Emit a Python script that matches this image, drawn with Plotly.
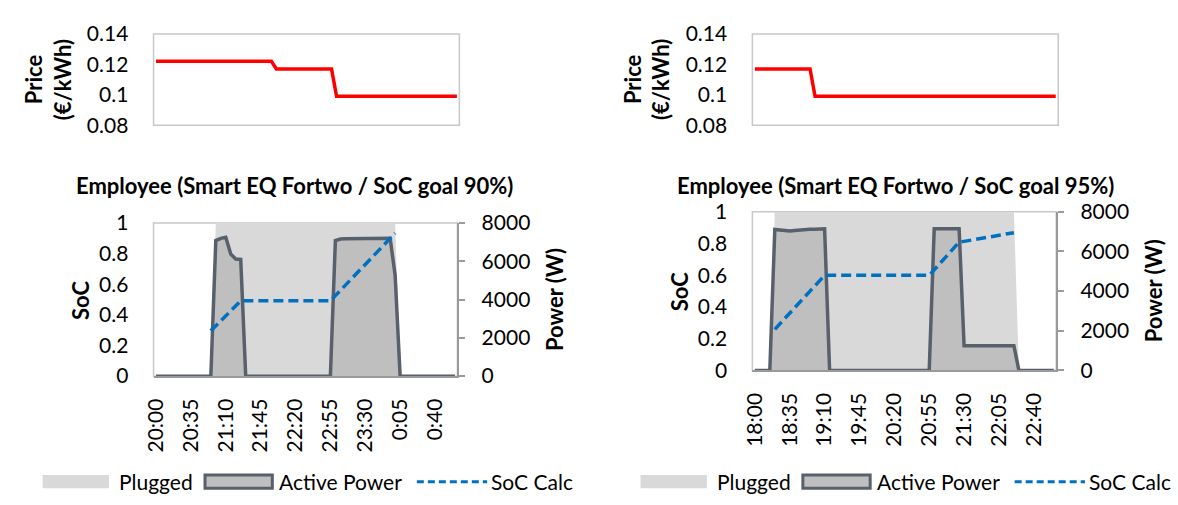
import plotly.graph_objects as go

# ---------------------------------------------------------------- data
def five_min_labels(start_hour, count):
    out = []
    for k in range(count):
        total = start_hour * 60 + 5 * k
        out.append("%d:%02d" % ((total // 60) % 24, total % 60))
    return out

TIMES_A = five_min_labels(20, 61)   # 20:00 .. 1:00
TIMES_B = five_min_labels(18, 61)   # 18:00 .. 23:00

TICKS_A = ["20:00", "20:35", "21:10", "21:45", "22:20", "22:55", "23:30", "0:05", "0:40"]
TICKS_B = ["18:00", "18:35", "19:10", "19:45", "20:20", "20:55", "21:30", "22:05", "22:40"]

PRICE_A = [
    0.122, 0.122, 0.122, 0.122, 0.122, 0.122, 0.122, 0.122, 0.122, 0.122,
    0.122, 0.122, 0.122, 0.122, 0.122, 0.122, 0.122, 0.122, 0.122, 0.122,
    0.122, 0.122, 0.122, 0.122, 0.117, 0.117, 0.117, 0.117, 0.117, 0.117,
    0.117, 0.117, 0.117, 0.117, 0.117, 0.117, 0.099, 0.099, 0.099, 0.099,
    0.099, 0.099, 0.099, 0.099, 0.099, 0.099, 0.099, 0.099, 0.099, 0.099,
    0.099, 0.099, 0.099, 0.099, 0.099, 0.099, 0.099, 0.099, 0.099, 0.099,
    0.099,
]
PRICE_B = [
    0.117, 0.117, 0.117, 0.117, 0.117, 0.117, 0.117, 0.117, 0.117, 0.117,
    0.117, 0.117, 0.099, 0.099, 0.099, 0.099, 0.099, 0.099, 0.099, 0.099,
    0.099, 0.099, 0.099, 0.099, 0.099, 0.099, 0.099, 0.099, 0.099, 0.099,
    0.099, 0.099, 0.099, 0.099, 0.099, 0.099, 0.099, 0.099, 0.099, 0.099,
    0.099, 0.099, 0.099, 0.099, 0.099, 0.099, 0.099, 0.099, 0.099, 0.099,
    0.099, 0.099, 0.099, 0.099, 0.099, 0.099, 0.099, 0.099, 0.099, 0.099,
    0.099,
]

PLUGGED_A = [
    0, 0, 0, 0, 0, 0, 0, 0, 0, 0,
    0, 0, 1, 1, 1, 1, 1, 1, 1, 1,
    1, 1, 1, 1, 1, 1, 1, 1, 1, 1,
    1, 1, 1, 1, 1, 1, 1, 1, 1, 1,
    1, 1, 1, 1, 1, 1, 1, 1, 1, 0,
    0, 0, 0, 0, 0, 0, 0, 0, 0, 0,
    0,
]
POWER_A = [
    0, 0, 0, 0, 0, 0, 0, 0, 0, 0,
    0, 0, 7090, 7200, 7255, 6380, 6120, 6100, 0, 0,
    0, 0, 0, 0, 0, 0, 0, 0, 0, 0,
    0, 0, 0, 0, 0, 0, 7090, 7170, 7180, 7180,
    7185, 7185, 7190, 7190, 7195, 7195, 7200, 7205, 5270, 0,
    0, 0, 0, 0, 0, 0, 0, 0, 0, 0,
    0,
]
SOC_A = [
    None, None, None, None, None, None, None, None, None, None,
    None, 0.296, 0.329, 0.362, 0.394, 0.427, 0.460, 0.492, 0.492, 0.492,
    0.492, 0.492, 0.492, 0.492, 0.492, 0.492, 0.492, 0.492, 0.492, 0.492,
    0.492, 0.492, 0.492, 0.492, 0.492, 0.492, 0.526, 0.560, 0.594, 0.628,
    0.662, 0.696, 0.730, 0.764, 0.798, 0.832, 0.866, 0.900, 0.934, None,
    None, None, None, None, None, None, None, None, None, None,
    None,
]

PLUGGED_B = [
    0, 0, 0, 0, 1, 1, 1, 1, 1, 1,
    1, 1, 1, 1, 1, 1, 1, 1, 1, 1,
    1, 1, 1, 1, 1, 1, 1, 1, 1, 1,
    1, 1, 1, 1, 1, 1, 1, 1, 1, 1,
    1, 1, 1, 1, 1, 1, 1, 1, 1, 1,
    1, 1, 1, 0, 0, 0, 0, 0, 0, 0,
    0,
]
POWER_B = [
    0, 0, 0, 0, 7105, 7070, 7040, 7025, 7050, 7080,
    7100, 7110, 7120, 7130, 7140, 0, 0, 0, 0, 0,
    0, 0, 0, 0, 0, 0, 0, 0, 0, 0,
    0, 0, 0, 0, 0, 0, 7138, 7140, 7140, 7140,
    7140, 7140, 1245, 1245, 1245, 1245, 1245, 1245, 1245, 1245,
    1245, 1245, 1245, 0, 0, 0, 0, 0, 0, 0,
    0,
]
SOC_B = [
    None, None, None, None, 0.259, 0.293, 0.327, 0.361, 0.395, 0.429,
    0.463, 0.497, 0.531, 0.565, 0.599, 0.599, 0.599, 0.599, 0.599, 0.599,
    0.599, 0.599, 0.599, 0.599, 0.599, 0.599, 0.599, 0.599, 0.599, 0.599,
    0.599, 0.599, 0.599, 0.599, 0.599, 0.599, 0.634, 0.669, 0.704, 0.738,
    0.773, 0.808, 0.813, 0.819, 0.824, 0.830, 0.835, 0.841, 0.846, 0.852,
    0.857, 0.863, 0.868, None, None, None, None, None, None, None,
    None,
]

TITLE_A = "Employee (Smart EQ Fortwo / SoC goal 90%)"
TITLE_B = "Employee (Smart EQ Fortwo / SoC goal 95%)"

# ---------------------------------------------------------------- style
W, H = 1178, 505
FONT = "Lato"
INK = "#000000"
PLUG_FILL = "#D9D9D9"
POWER_FILL = "#BFBFBF"
POWER_LINE = "#58606C"
SOC_BLUE = "#0070C0"
PRICE_RED = "#FF0000"
BORDER = "#C8C8C8"
AXIS_GRAY = "#9A9A9A"
TICK_SIZE = 21
LEGEND_SIZE = 21


def px_x(v):
    return v / W


def px_y(v):
    return 1 - v / H


fig = go.Figure()
layout = dict(
    width=W, height=H,
    margin=dict(l=0, r=0, t=0, b=0),
    paper_bgcolor="white", plot_bgcolor="white",
    font=dict(family=FONT, size=TICK_SIZE, color=INK),
    showlegend=False,
)
shapes, annotations = [], []

panels = [
    dict(times=TIMES_A, ticks=TICKS_A, price=PRICE_A, plugged=PLUGGED_A,
         power=POWER_A, soc=SOC_A, title=TITLE_A,
         price_px=(143, 452, 21, 117), main_px=(143, 450, 220, 381),
         ax=dict(px="x1", py="y1", mx="x3", my="y3", pw="y4", so="y5"),
         label_x=36, soc_label_x=69, power_label_x=548, title_x=285, title_y=180,
         legend_x=31),
    dict(times=TIMES_B, ticks=TICKS_B, price=PRICE_B, plugged=PLUGGED_B,
         power=POWER_B, soc=SOC_B, title=TITLE_B,
         price_px=(748, 1057, 21, 117), main_px=(748, 1055, 208, 375),
         ax=dict(px="x2", py="y2", mx="x4", my="y6", pw="y7", so="y8"),
         label_x=641, soc_label_x=674, power_label_x=1153, title_x=893, title_y=180,
         legend_x=635),
]


def axis_key(name):
    letter, num = name[0], name[1:]
    return ("xaxis" if letter == "x" else "yaxis") + ("" if num == "1" else num)


def ref(name):
    return name[0] + ("" if name[1:] == "1" else name[1:])


for p in panels:
    a = p["ax"]
    n = len(p["times"])
    xr = [-0.5, n - 0.5]

    # ---- price panel
    x0, x1, y0, y1 = p["price_px"]
    layout[axis_key(a["px"])] = dict(
        domain=[px_x(x0), px_x(x1)], anchor=ref(a["py"]), type="category",
        range=xr, showticklabels=False, ticks="", showgrid=False, zeroline=False,
    )
    layout[axis_key(a["py"])] = dict(
        domain=[px_y(y1), px_y(y0)], anchor=ref(a["px"]), range=[0.08, 0.14],
        dtick=0.02, tick0=0.08, showgrid=False, zeroline=False,
        ticks="outside", ticklen=20, tickcolor="rgba(0,0,0,0)",
    )
    fig.add_trace(go.Scatter(
        x=p["times"], y=p["price"], mode="lines",
        line=dict(color=PRICE_RED, width=3.5),
        xaxis=ref(a["px"]), yaxis=ref(a["py"]), name="Price",
    ))
    shapes.append(dict(type="rect", xref=ref(a["px"]) + " domain", yref=ref(a["py"]) + " domain",
                       x0=0, x1=1, y0=0, y1=1, line=dict(color=BORDER, width=1.5), layer="below"))
    annotations.append(dict(
        x=px_x(p["label_x"]), y=px_y((y0 + y1) / 2), xref="paper", yref="paper",
        text="<b>Price<br>(€/kWh)</b>", textangle=-90, showarrow=False,
        font=dict(size=22), xanchor="center", yanchor="middle",
    ))

    # ---- SoC / power panel
    x0, x1, y0, y1 = p["main_px"]
    dom_y = [px_y(y1), px_y(y0)]
    layout[axis_key(a["mx"])] = dict(
        domain=[px_x(x0), px_x(x1)], anchor=ref(a["my"]), type="category",
        range=xr, tickmode="array", tickvals=p["ticks"], ticktext=p["ticks"],
        tickangle=-90, ticks="outside", ticklen=12, tickcolor="rgba(0,0,0,0)",
        showline=True, linecolor=AXIS_GRAY, linewidth=2,
        showgrid=False, zeroline=False,
    )
    layout[axis_key(a["my"])] = dict(
        domain=dom_y, anchor=ref(a["mx"]), range=[0, 1], dtick=0.2,
        showgrid=False, zeroline=False,
        ticks="outside", ticklen=20, tickcolor="rgba(0,0,0,0)",
    )
    layout[axis_key(a["pw"])] = dict(
        overlaying=ref(a["my"]), anchor=ref(a["mx"]), side="right",
        range=[0, 8000], dtick=2000, tickformat="d",
        showgrid=False, zeroline=False,
        showline=True, linecolor=AXIS_GRAY, linewidth=2,
        ticks="outside", ticklen=6, tickwidth=2, tickcolor=AXIS_GRAY,
        ticklabelstandoff=12,
    )
    layout[axis_key(a["so"])] = dict(
        overlaying=ref(a["my"]), anchor=ref(a["mx"]), range=[0, 1],
        visible=False, showgrid=False, zeroline=False,
    )
    shapes.append(dict(type="rect", xref=ref(a["mx"]) + " domain", yref=ref(a["my"]) + " domain",
                       x0=0, x1=1, y0=0, y1=1, line=dict(color=BORDER, width=1.5), layer="below"))

    fig.add_trace(go.Scatter(
        x=p["times"], y=p["plugged"], mode="lines", fill="tozeroy",
        fillcolor=PLUG_FILL, line=dict(width=0, color=PLUG_FILL),
        xaxis=ref(a["mx"]), yaxis=ref(a["my"]), name="Plugged",
    ))
    fig.add_trace(go.Scatter(
        x=p["times"], y=p["power"], mode="lines", fill="tozeroy",
        fillcolor=POWER_FILL, line=dict(width=3.5, color=POWER_LINE),
        xaxis=ref(a["mx"]), yaxis=ref(a["pw"]), name="Active Power",
    ))
    fig.add_trace(go.Scatter(
        x=p["times"], y=p["soc"], mode="lines",
        line=dict(width=3.5, color=SOC_BLUE, dash="10px,5px"),
        xaxis=ref(a["mx"]), yaxis=ref(a["so"]), name="SoC Calc",
    ))

    annotations.append(dict(
        x=px_x(p["title_x"]), y=px_y(p["title_y"]), xref="paper", yref="paper",
        text="<b>%s</b>" % p["title"], showarrow=False, font=dict(size=22),
        xanchor="center", yanchor="middle",
    ))
    annotations.append(dict(
        x=px_x(p["soc_label_x"]), y=px_y((y0 + y1) / 2), xref="paper", yref="paper",
        text="<b>SoC</b>", textangle=-90, showarrow=False, font=dict(size=22),
        xanchor="center", yanchor="middle",
    ))
    annotations.append(dict(
        x=px_x(p["power_label_x"]), y=px_y((y0 + y1) / 2), xref="paper", yref="paper",
        text="<b>Power (W)</b>", textangle=-90, showarrow=False, font=dict(size=22),
        xanchor="center", yanchor="middle",
    ))

    # ---- legend row
    lx = p["legend_x"]
    ly0, ly1 = px_y(499), px_y(485)
    shapes.append(dict(type="rect", xref="paper", yref="paper",
                       x0=px_x(lx), x1=px_x(lx + 67), y0=ly0, y1=ly1,
                       fillcolor=PLUG_FILL, line=dict(width=0)))
    annotations.append(dict(x=px_x(lx + 75), y=px_y(492), xref="paper", yref="paper",
                            text="Plugged", showarrow=False, xanchor="left", yanchor="middle",
                            font=dict(size=LEGEND_SIZE)))
    shapes.append(dict(type="rect", xref="paper", yref="paper",
                       x0=px_x(lx + 164), x1=px_x(lx + 232), y0=ly0, y1=ly1,
                       fillcolor=POWER_FILL, line=dict(width=3, color=POWER_LINE)))
    annotations.append(dict(x=px_x(lx + 237), y=px_y(492), xref="paper", yref="paper",
                            text="Active Power", showarrow=False, xanchor="left", yanchor="middle",
                            font=dict(size=LEGEND_SIZE)))
    shapes.append(dict(type="line", xref="paper", yref="paper",
                       x0=px_x(lx + 378), x1=px_x(lx + 449), y0=px_y(492), y1=px_y(492),
                       line=dict(width=3, color=SOC_BLUE, dash="7px,4px")))
    annotations.append(dict(x=px_x(lx + 451), y=px_y(492), xref="paper", yref="paper",
                            text="SoC Calc", showarrow=False, xanchor="left", yanchor="middle",
                            font=dict(size=LEGEND_SIZE)))

layout["shapes"] = shapes
layout["annotations"] = annotations
fig.update_layout(**layout)

fig.write_html("out.html", post_script="document.body.style.margin='0';")
